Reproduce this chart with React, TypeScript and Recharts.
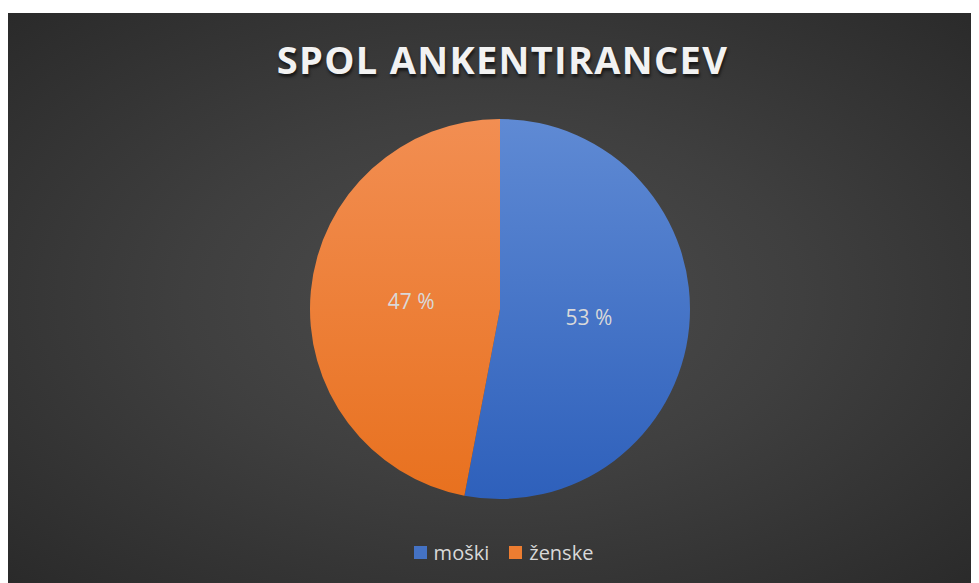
import React from "react";
import { PieChart, Pie, Cell, Legend } from "recharts";

const categories = ["moški", "ženske"];
const values = [53, 47];
const colorsTop = ["#5f8ad4", "#f28e52"];
const colorsBottom = ["#2e60bb", "#e8711f"];
const legendColors = ["#4472c4", "#ed7d31"];

const data = categories.map((name, i) => ({ name, value: values[i] }));

const RADIAN = Math.PI / 180;

const renderLabel = (props: any) => {
  const { cx, cy, midAngle, outerRadius, value } = props;
  const r = outerRadius * 0.47;
  const x = cx + r * Math.cos(-midAngle * RADIAN);
  const y = cy + r * Math.sin(-midAngle * RADIAN);
  return (
    <text
      x={x}
      y={y}
      fill="#d9d9d9"
      textAnchor="middle"
      dominantBaseline="central"
      fontSize={21}
      fontFamily="'Open Sans', sans-serif"
    >
      {`${value} %`}
    </text>
  );
};

const renderLegend = () => (
  <div
    style={{
      display: "flex",
      justifyContent: "center",
      alignItems: "center",
      gap: 20,
      paddingLeft: 20,
      fontFamily: "'Open Sans', sans-serif",
      fontSize: 20,
      color: "#d9d9d9",
    }}
  >
    {categories.map((c, i) => (
      <div key={c} style={{ display: "flex", alignItems: "center", gap: 7 }}>
        <span style={{ display: "inline-block", width: 13, height: 13, background: legendColors[i] }} />
        <span>{c}</span>
      </div>
    ))}
  </div>
);

export default function App() {
  return (
    <div
      style={{
        position: "relative",
        marginTop: 5,
        width: 971,
        height: 570,
        background: "radial-gradient(ellipse at 50% 50%, #4d4d4d 0%, #3f3f3f 45%, #2a2a2a 100%)",
      }}
    >
      <div
        style={{
          position: "absolute",
          top: 20,
          left: 9,
          width: "100%",
          textAlign: "center",
          fontFamily: "'Open Sans', sans-serif",
          fontWeight: 700,
          fontSize: 38,
          letterSpacing: 1.3,
          color: "#f2f2f2",
          textShadow: "1px 3px 3px rgba(0,0,0,0.6)",
          lineHeight: "52px",
        }}
      >
        SPOL ANKENTIRANCEV
      </div>
      <PieChart
        width={971}
        height={570}
        margin={{ top: 0, right: 0, bottom: 0, left: 0 }}
        style={{ position: "absolute", top: 0, left: 0 }}
      >
        <defs>
          {categories.map((c, i) => (
            <linearGradient key={c} id={`grad${i}`} x1="0" y1="0" x2="0" y2="1">
              <stop offset="0%" stopColor={colorsTop[i]} />
              <stop offset="100%" stopColor={colorsBottom[i]} />
            </linearGradient>
          ))}
        </defs>
        <Pie
          data={data}
          dataKey="value"
          nameKey="name"
          cx={492}
          cy={296}
          outerRadius={190}
          startAngle={90}
          endAngle={-270}
          stroke="none"
          label={renderLabel}
          labelLine={false}
          isAnimationActive={false}
        >
          {data.map((d, i) => (
            <Cell key={d.name} fill={`url(#grad${i})`} />
          ))}
        </Pie>
        <Legend
          content={renderLegend}
          verticalAlign="bottom"
          wrapperStyle={{ bottom: 17 }}
        />
      </PieChart>
    </div>
  );
}
